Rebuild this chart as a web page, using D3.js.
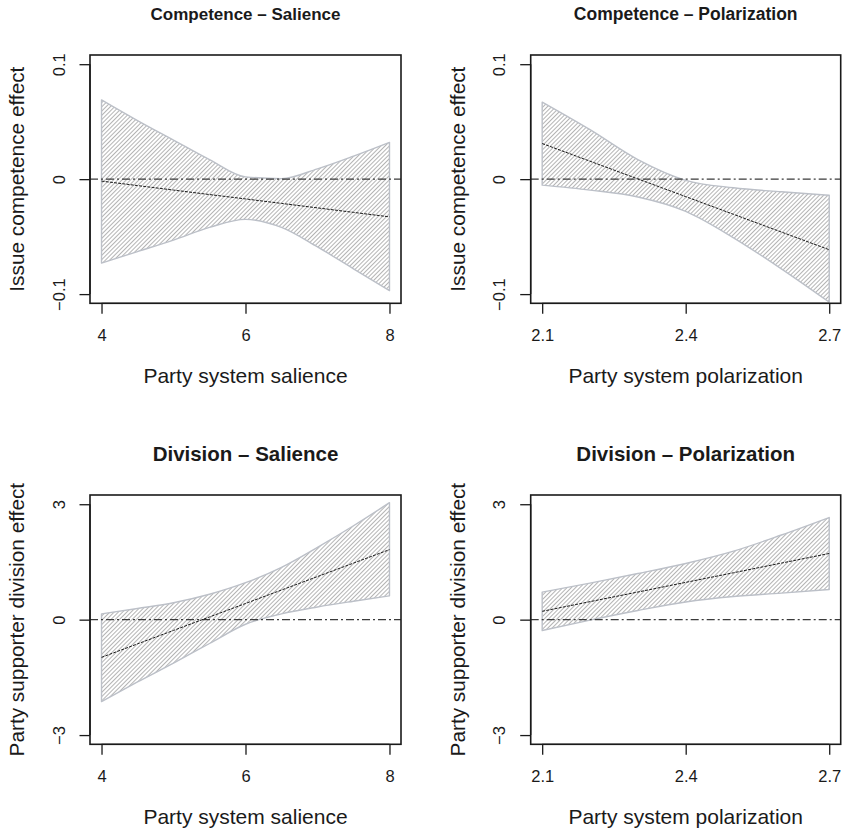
<!DOCTYPE html>
<html>
<head>
<meta charset="utf-8">
<script src="https://cdn.jsdelivr.net/npm/d3@7"></script>
<style>
  html, body { margin: 0; padding: 0; background: #fff; }
  svg { display: block; }
  text { font-family: "Liberation Sans", Arial, Helvetica, sans-serif; fill: #1a1a1a; }
</style>
</head>
<body>
<script>
// ---- data ----
const salienceX = [4, 4.5, 5, 5.5, 6, 6.5, 7, 7.5, 8];
const polarX = [2.1, 2.2, 2.3, 2.4, 2.5, 2.6, 2.7];

const compSalMean  = [-0.0017, -0.0056, -0.0095, -0.0134, -0.0172, -0.0211, -0.025, -0.0289, -0.0328];
const compSalUpper = [0.069, 0.051, 0.034, 0.017, 0.002, 0.0005, 0.009, 0.020, 0.032];
const compSalLower = [-0.073, -0.063, -0.053, -0.042, -0.035, -0.042, -0.059, -0.078, -0.097];

const compPolMean  = [0.031, 0.0156, 0.0002, -0.0152, -0.0306, -0.046, -0.0614];
const compPolUpper = [0.067, 0.043, 0.017, -0.001, -0.0075, -0.011, -0.014];
const compPolLower = [-0.0052, -0.0095, -0.0155, -0.028, -0.051, -0.078, -0.107];

const divSalMean  = [-0.98, -0.63, -0.28, 0.07, 0.42, 0.77, 1.12, 1.47, 1.82];
const divSalUpper = [0.15, 0.29, 0.44, 0.66, 0.96, 1.36, 1.88, 2.44, 3.04];
const divSalLower = [-2.13, -1.62, -1.13, -0.62, -0.12, 0.15, 0.33, 0.48, 0.62];

const divPolMean  = [0.217, 0.468, 0.718, 0.969, 1.219, 1.47, 1.72];
const divPolUpper = [0.717, 0.948, 1.198, 1.46, 1.78, 2.2, 2.655];
const divPolLower = [-0.283, -0.012, 0.238, 0.459, 0.6, 0.69, 0.785];

const salienceTicks = [4, 6, 8];
const salienceTickLabels = ["4", "6", "8"];
const polarTicks = [2.1, 2.4, 2.7];
const polarTickLabels = ["2.1", "2.4", "2.7"];
const compTicks = [-0.1, 0, 0.1];
const compTickLabels = ["\u22120.1", "0", "0.1"];
const divTicks = [-3, 0, 3];
const divTickLabels = ["\u22123", "0", "3"];

const titles = ["Competence \u2013 Salience", "Competence \u2013 Polarization", "Division \u2013 Salience", "Division \u2013 Polarization"];
const xTitles = ["Party system salience", "Party system polarization", "Party system salience", "Party system polarization"];
const yTitles = ["Issue competence effect", "Issue competence effect", "Party supporter division effect", "Party supporter division effect"];

// ---- layout ----
const W = 846, H = 832;
const FONT = '"Liberation Sans", Arial, Helvetica, sans-serif';
const svg = d3.select("body").append("svg").attr("width", W).attr("height", H);

const defs = svg.append("defs");
const pat = defs.append("pattern")
  .attr("id", "hatch")
  .attr("patternUnits", "userSpaceOnUse")
  .attr("width", 3).attr("height", 3)
  .attr("patternTransform", "rotate(45)");
pat.append("line").attr("x1", 0.5).attr("y1", 0).attr("x2", 0.5).attr("y2", 3)
  .attr("stroke", "#ababab").attr("stroke-width", 0.9);

const panels = [
  { x: salienceX, mean: compSalMean, up: compSalUpper, lo: compSalLower,
    xd: [3.84, 8.16], yd: [-0.108, 0.108], xt: salienceTicks, xtl: salienceTickLabels,
    yt: compTicks, ytl: compTickLabels, box: [90, 401, 55, 303.3], tsize: 17 },
  { x: polarX, mean: compPolMean, up: compPolUpper, lo: compPolLower,
    xd: [2.076, 2.724], yd: [-0.108, 0.108], xt: polarTicks, xtl: polarTickLabels,
    yt: compTicks, ytl: compTickLabels, box: [530.7, 840.7, 55, 303.3], tsize: 17.5 },
  { x: salienceX, mean: divSalMean, up: divSalUpper, lo: divSalLower,
    xd: [3.84, 8.16], yd: [-3.24, 3.24], xt: salienceTicks, xtl: salienceTickLabels,
    yt: divTicks, ytl: divTickLabels, box: [90, 401, 495, 744.3], tsize: 20.5 },
  { x: polarX, mean: divPolMean, up: divPolUpper, lo: divPolLower,
    xd: [2.076, 2.724], yd: [-3.24, 3.24], xt: polarTicks, xtl: polarTickLabels,
    yt: divTicks, ytl: divTickLabels, box: [530.7, 840.7, 495, 744.3], tsize: 20.5 }
];

panels.forEach((p, i) => {
  const [L, R, T, B] = p.box;
  const xs = d3.scaleLinear().domain(p.xd).range([L, R]);
  const ys = d3.scaleLinear().domain(p.yd).range([B, T]);
  const g = svg.append("g");
  const pts = p.x.map((xv, j) => ({ x: xv, m: p.mean[j], u: p.up[j], l: p.lo[j] }));

  // band
  const area = d3.area().x(d => xs(d.x)).y0(d => ys(d.l)).y1(d => ys(d.u)).curve(d3.curveMonotoneX);
  g.append("path").datum(pts).attr("d", area)
    .attr("fill", "url(#hatch)")
    .attr("stroke", "#bcc0c8").attr("stroke-width", 1.4).attr("stroke-linejoin", "round");

  // zero line
  g.append("line").attr("x1", L).attr("x2", R).attr("y1", ys(0)).attr("y2", ys(0))
    .attr("stroke", "#3a3a3a").attr("stroke-width", 1.2).attr("stroke-dasharray", "8,3,2,3");

  // mean line
  const line = d3.line().x(d => xs(d.x)).y(d => ys(d.m));
  g.append("path").datum(pts).attr("d", line)
    .attr("fill", "none").attr("stroke", "#1a1a1a").attr("stroke-width", 1).attr("stroke-dasharray", "3,1.2");

  // box
  g.append("rect").attr("x", L).attr("y", T).attr("width", R - L).attr("height", B - T)
    .attr("fill", "none").attr("stroke", "#1a1a1a").attr("stroke-width", 1.6);

  // x axis
  const xAxis = d3.axisBottom(xs).tickValues(p.xt).tickFormat((d, k) => p.xtl[k]).tickSize(10.5).tickPadding(0);
  const xg = g.append("g").attr("transform", `translate(0,${B})`).call(xAxis);
  xg.select(".domain").attr("stroke", "#1a1a1a").attr("stroke-width", 1.3)
    .attr("d", `M${xs(p.xt[0])},0H${xs(p.xt[p.xt.length - 1])}`);
  xg.selectAll(".tick line").attr("stroke", "#1a1a1a").attr("stroke-width", 1.3);
  xg.selectAll(".tick text").attr("y", 31.7).attr("dy", "0.35em")
    .style("font-size", "16.5px").attr("fill", "#1a1a1a").style("font-family", FONT);

  // y axis
  const yAxis = d3.axisLeft(ys).tickValues(p.yt).tickFormat((d, k) => p.ytl[k]).tickSize(10.5);
  const yg = g.append("g").attr("transform", `translate(${L},0)`).call(yAxis);
  yg.select(".domain").attr("stroke", "#1a1a1a").attr("stroke-width", 1.3)
    .attr("d", `M0,${ys(p.yt[0])}V${ys(p.yt[p.yt.length - 1])}`);
  yg.selectAll(".tick line").attr("stroke", "#1a1a1a").attr("stroke-width", 1.3);
  yg.selectAll(".tick text")
    .attr("x", null)
    .attr("transform", "translate(-31,0) rotate(-90)")
    .attr("text-anchor", "middle").attr("dy", "0.35em")
    .style("font-size", "16.5px").attr("fill", "#1a1a1a").style("font-family", FONT);

  // titles
  const cx = (L + R) / 2, cy = (T + B) / 2;
  g.append("text").attr("x", cx).attr("y", T - 41).attr("dy", "0.35em")
    .attr("text-anchor", "middle").style("font-size", p.tsize + "px").style("font-weight", "bold")
    .text(titles[i]);
  g.append("text").attr("x", cx).attr("y", B + 72.5).attr("dy", "0.35em")
    .attr("text-anchor", "middle").style("font-size", "21px")
    .text(xTitles[i]);
  g.append("text").attr("transform", `translate(${L - 73},${cy}) rotate(-90)`).attr("dy", "0.35em")
    .attr("text-anchor", "middle").style("font-size", "20.8px")
    .text(yTitles[i]);
});
</script>
</body>
</html>
